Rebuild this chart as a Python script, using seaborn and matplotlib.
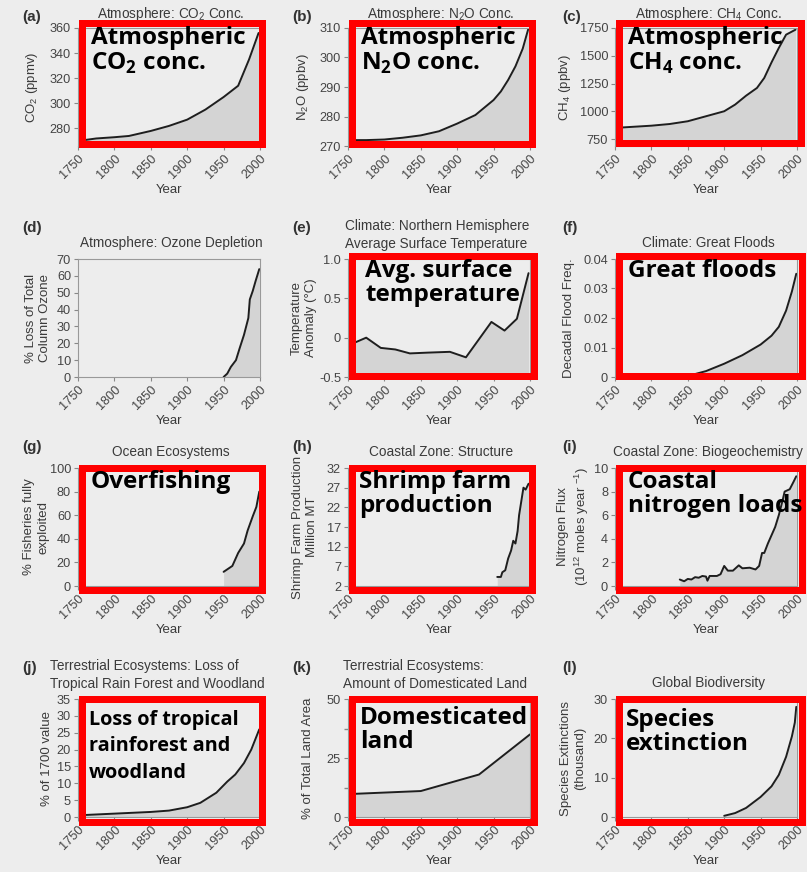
import matplotlib
matplotlib.use("Agg")
import matplotlib.pyplot as plt
import matplotlib.patches as mpatches
import pandas as pd
import seaborn as sns

# ---- data ----
co2_year = [1750, 1775, 1800, 1820, 1850, 1875, 1900, 1925, 1950, 1970, 1985, 1998]
co2_val = [270, 272, 273, 274, 278, 282, 287, 295, 305, 314, 335, 356]

n2o_year = [1750, 1775, 1800, 1825, 1850, 1875, 1900, 1925, 1950, 1960, 1970, 1980, 1990, 1998]
n2o_val = [272, 272, 272.2, 272.8, 273.6, 275, 277.6, 280.5, 285.6, 288.5, 292.4, 297, 303, 310]

ch4_year = [1750, 1775, 1800, 1825, 1850, 1875, 1900, 1915, 1930, 1945, 1955, 1965, 1975, 1985, 1998]
ch4_val = [850, 860, 870, 885, 910, 955, 1000, 1060, 1140, 1210, 1300, 1440, 1570, 1690, 1735]

ozone_year = [1950, 1955, 1960, 1967, 1972, 1978, 1984, 1986, 1990, 1994, 1999]
ozone_val = [0, 2, 6, 10, 17, 25, 35, 46, 51, 57, 64]

temp_year = [1750, 1775, 1795, 1815, 1835, 1860, 1890, 1912, 1947, 1965, 1982, 1998]
temp_val = [-0.1, 0.0, -0.13, -0.15, -0.2, -0.19, -0.18, -0.25, 0.2, 0.09, 0.24, 0.82]

flood_year = [1860, 1875, 1900, 1925, 1950, 1965, 1975, 1985, 1993, 1999]
flood_val = [0.001, 0.002, 0.0045, 0.0074, 0.011, 0.014, 0.017, 0.0225, 0.029, 0.035]

fish_year = [1950, 1962, 1970, 1978, 1983, 1990, 1995, 1999]
fish_val = [12, 17, 28, 36, 47, 59, 67, 80]

shrimp_year = [1955, 1960, 1962, 1966, 1970, 1974, 1977, 1980, 1983, 1985, 1988, 1991, 1994, 1998]
shrimp_val = [4.3, 4.3, 5.5, 6, 9, 11, 13.5, 12.8, 16, 20, 23.5, 27, 26.5, 28]

nitro_year = [1839, 1845, 1850, 1855, 1860, 1865, 1870, 1875, 1877, 1880, 1890, 1895, 1900,
              1905, 1912, 1920, 1925, 1935, 1943, 1948, 1952, 1955, 1960, 1965, 1970, 1975,
              1980, 1983, 1990, 1995, 1999]
nitro_val = [0.55, 0.4, 0.6, 0.55, 0.75, 0.7, 0.85, 0.8, 0.45, 0.85, 0.85, 1.0, 1.7,
             1.3, 1.3, 1.75, 1.5, 1.55, 1.4, 1.7, 2.8, 2.8, 3.6, 4.3, 5.0, 6.0,
             7.2, 8.0, 8.2, 8.8, 9.3]

forest_year = [1750, 1800, 1850, 1875, 1900, 1918, 1940, 1955, 1966, 1978, 1988, 1999]
forest_val = [0.5, 1.0, 1.5, 1.9, 2.9, 4.2, 7.2, 10.5, 12.6, 16, 20, 26]

land_year = [1750, 1850, 1930, 2000]
land_val = [9.7, 11, 18, 35]

species_year = [1900, 1915, 1930, 1950, 1965, 1975, 1985, 1993, 1997, 1999]
species_val = [0.3, 1.0, 2.3, 5.1, 7.8, 10.7, 15.3, 20.5, 24, 28]

BG = "#ededed"
FILL = "#d4d4d4"
LINE = "#1e1e1e"
TXT = "#3a3a3a"

sns.set_theme(style="ticks", rc={"axes.facecolor": BG, "figure.facecolor": BG})
plt.rcParams["font.family"] = ["Liberation Sans", "DejaVu Sans"]
plt.rcParams["mathtext.fontset"] = "custom"
plt.rcParams["mathtext.rm"] = "Liberation Sans"
plt.rcParams["mathtext.bf"] = "Open Sans:bold"

W, H = 807, 872
fig = plt.figure(figsize=(W / 100, H / 100), dpi=100)


def fx(x):
    return x / W


def fy(y):
    return 1 - y / H


col_left = [78, 348, 615]
row_top = [28, 259, 468, 699]
AX_W, AX_H = 182, 118
tag_x = [22, 292, 562]
tag_y = [17, 228, 447, 668]

panels = [
    dict(tag="(a)", year=co2_year, val=co2_val, ylim=(266, 360),
         yt=[280, 300, 320, 340, 360], ylab="CO$_2$ (ppmv)", lx=-46,
         title="Atmosphere: CO$_2$ Conc.",
         big="Atmospheric\nCO$_\\mathbf{2}$ conc.", box=(78, 20, 265, 148), bxy=(91, 26)),
    dict(tag="(b)", year=n2o_year, val=n2o_val, ylim=(270, 310),
         yt=[270, 280, 290, 300, 310], ylab="N$_2$O (ppbv)", lx=-45,
         title="Atmosphere: N$_2$O Conc.",
         big="Atmospheric\nN$_\\mathbf{2}$O conc.", box=(348, 20, 535, 148), bxy=(361, 26)),
    dict(tag="(c)", year=ch4_year, val=ch4_val, ylim=(687, 1750),
         yt=[750, 1000, 1250, 1500, 1750], ylab="CH$_4$ (ppbv)", lx=-50,
         title="Atmosphere: CH$_4$ Conc.",
         big="Atmospheric\nCH$_\\mathbf{4}$ conc.", box=(615, 20, 804, 147), bxy=(628, 26)),
    dict(tag="(d)", year=ozone_year, val=ozone_val, ylim=(0, 70),
         yt=list(range(0, 71, 10)), ylab="% Loss of Total\nColumn Ozone", lx=-40,
         title="Atmosphere: Ozone Depletion", big=None, box=None, bxy=None),
    dict(tag="(e)", year=temp_year, val=temp_val, ylim=(-0.5, 1.0),
         yt=[-0.5, 0, 0.5, 1.0], ytl=["-0.5", "0", "0.5", "1.0"],
         ylab="Temperature\nAnomaly (°C)", lx=-44,
         title="Climate: Northern Hemisphere\nAverage Surface Temperature", tleft=345,
         big="Avg. surface\ntemperature", box=(348, 253, 537, 380), bxy=(365, 259)),
    dict(tag="(f)", year=flood_year, val=flood_val, ylim=(0, 0.04),
         yt=[0, 0.01, 0.02, 0.03, 0.04], ytl=["0", "0.01", "0.02", "0.03", "0.04"],
         ylab="Decadal Flood Freq.", lx=-46,
         title="Climate: Great Floods",
         big="Great floods", box=(615, 253, 805, 380), bxy=(628, 259)),
    dict(tag="(g)", year=fish_year, val=fish_val, ylim=(0, 100),
         yt=list(range(0, 101, 20)), ylab="% Fisheries fully\nexploited", lx=-42,
         title="Ocean Ecosystems",
         big="Overfishing", box=(78, 464, 265, 593), bxy=(91, 470)),
    dict(tag="(h)", year=shrimp_year, val=shrimp_val, ylim=(2, 32),
         yt=[2, 7, 12, 17, 22, 27, 32], ylab="Shrimp Farm Production\nMillion MT", lx=-43,
         title="Coastal Zone: Structure",
         big="Shrimp farm\nproduction", box=(348, 464, 535, 593), bxy=(359, 470)),
    dict(tag="(i)", year=nitro_year, val=nitro_val, ylim=(0, 10),
         yt=list(range(0, 11, 2)), ylab="Nitrogen Flux\n(10$^{12}$ moles year $^{-1}$)", lx=-41,
         title="Coastal Zone: Biogeochemistry",
         big="Coastal\nnitrogen loads", box=(615, 464, 805, 593), bxy=(628, 470)),
    dict(tag="(j)", year=forest_year, val=forest_val, ylim=(0, 35),
         yt=list(range(0, 36, 5)), ylab="% of 1700 value", lx=-31,
         title="Terrestrial Ecosystems: Loss of\nTropical Rain Forest and Woodland", tleft=50,
         big="Loss of tropical\nrainforest and\nwoodland", box=(78, 695, 265, 825), bxy=(89, 710),
         bsize=14.3, bspace=1.42),
    dict(tag="(k)", year=land_year, val=land_val, ylim=(0, 50),
         yt=[0, 25, 50], minor=[12.5, 37.5], ylab="% of Total Land Area", lx=-40,
         title="Terrestrial Ecosystems:\nAmount of Domesticated Land", tleft=343,
         big="Domesticated\nland", box=(348, 695, 537, 825), bxy=(360, 706)),
    dict(tag="(l)", year=species_year, val=species_val, ylim=(0, 30),
         yt=[0, 10, 20, 30], ylab="Species Extinctions\n(thousand)", lx=-42,
         title="Global Biodiversity",
         big="Species\nextinction", box=(615, 695, 805, 825), bxy=(626, 708)),
]

for i, p in enumerate(panels):
    r, c = divmod(i, 3)
    left, top = col_left[c], row_top[r]
    ax = fig.add_axes([fx(left), fy(top + AX_H), AX_W / W, AX_H / H])
    ax.set_facecolor(BG)

    df = pd.DataFrame({"Year": p["year"], "value": p["val"]})
    ax.fill_between(df["Year"], df["value"], p["ylim"][0], color=FILL, lw=0, zorder=1)
    sns.lineplot(data=df, x="Year", y="value", ax=ax, color=LINE, lw=1.4, zorder=2)

    ax.set_xlim(1750, 2000)
    ax.set_ylim(*p["ylim"])
    ax.set_xticks([1750, 1800, 1850, 1900, 1950, 2000])
    ax.set_xticklabels(["1750", "1800", "1850", "1900", "1950", "2000"],
                       rotation=45, ha="right", rotation_mode="anchor")
    ax.set_yticks(p["yt"])
    if "ytl" in p:
        ax.set_yticklabels(p["ytl"])
    if "minor" in p:
        ax.set_yticks(p["minor"], minor=True)
    ax.tick_params(axis="both", labelsize=9.2, labelcolor="#444444", color="#888888",
                   length=3, width=0.8, pad=2)
    ax.tick_params(axis="y", which="minor", length=3, color="#888888")
    for s in ax.spines.values():
        s.set_color("#999999")
        s.set_linewidth(0.8)

    ax.set_xlabel("Year", fontsize=9.5, color=TXT, labelpad=2)
    ax.set_ylabel(p["ylab"], fontsize=9.5, color=TXT, va="center", linespacing=1.3)
    ax.yaxis.set_label_coords(p["lx"] / AX_W, 0.5)

    # panel tag and title
    fig.text(fx(tag_x[c]), fy(tag_y[r]), p["tag"], fontsize=11,
             fontweight="bold", color="#333333", va="center", ha="left")
    if "\n" in p["title"]:
        fig.text(fx(p["tleft"]), fy(top - 24), p["title"], fontsize=9.8, color=TXT,
                 va="center", ha="left", linespacing=1.4)
    else:
        fig.text(fx(left + AX_W / 2 + 2), fy(top - (14 if r == 0 else 16)), p["title"],
                 fontsize=9.8, color=TXT, va="center", ha="center")

    # red highlight box and big label
    if p["box"] is not None:
        x0, y0, x1, y1 = p["box"]
        lw_px = 7
        rect = mpatches.Rectangle((fx(x0 + lw_px / 2), fy(y1 - lw_px / 2)),
                                  (x1 - x0 - lw_px) / W, (y1 - y0 - lw_px) / H,
                                  transform=fig.transFigure, fill=False,
                                  edgecolor="#ff0000", lw=lw_px * 0.72,
                                  joinstyle="miter", zorder=5)
        fig.add_artist(rect)
        bx, by = p["bxy"]
        fig.text(fx(bx), fy(by), p["big"], fontfamily="Open Sans", fontweight="bold",
                 fontsize=p.get("bsize", 17.5), color="black", va="top", ha="left",
                 linespacing=p.get("bspace", 1.02), zorder=6)

fig.savefig("out.png", dpi=100, facecolor=BG)
